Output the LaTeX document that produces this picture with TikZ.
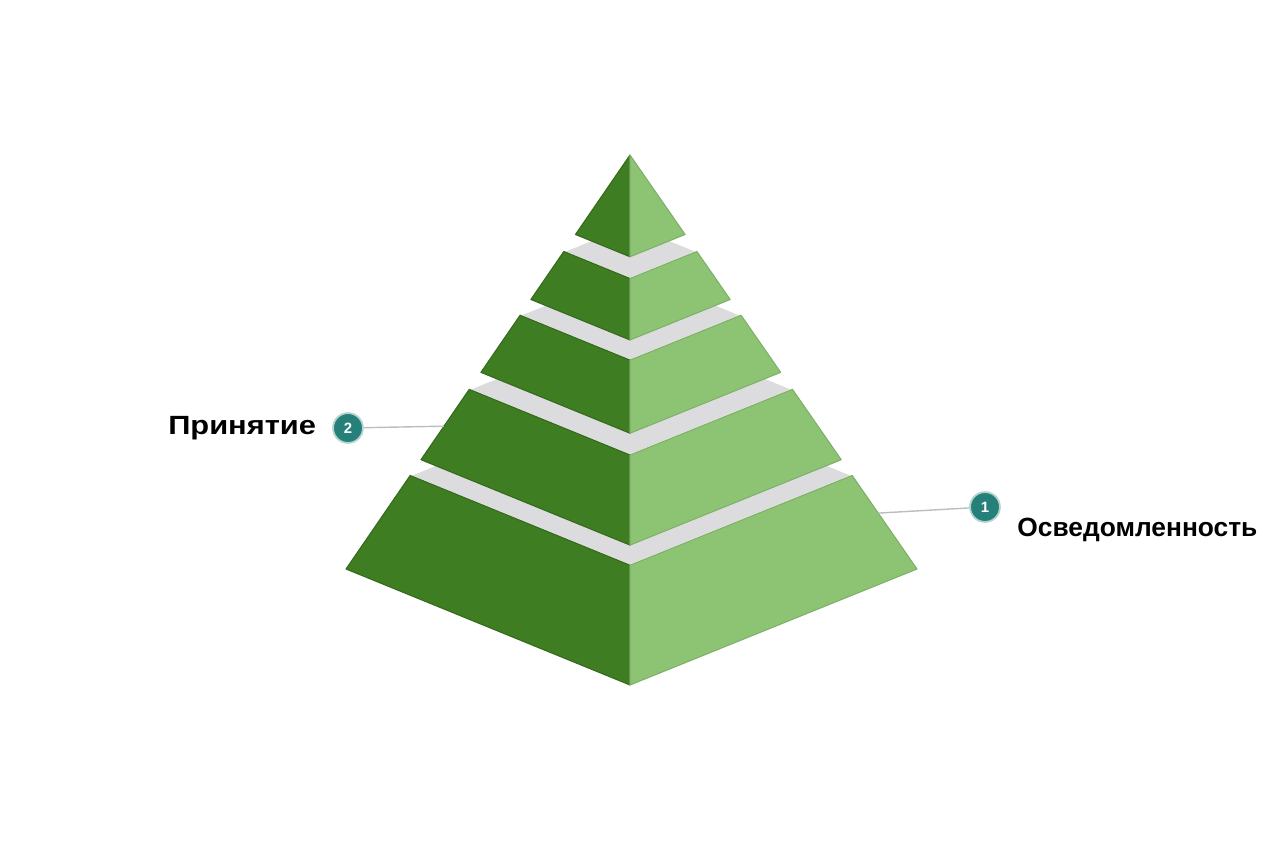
\documentclass[tikz,border=0pt]{standalone}
\usepackage{fontspec}
\setmainfont{Liberation Sans}
\newfontfamily\widefont[FakeStretch=1.17]{Liberation Sans}
\usetikzlibrary{calc,positioning}
\definecolor{leftgreen}{HTML}{3E7D22}
\definecolor{rightgreen}{HTML}{8CC474}
\definecolor{topgrey}{HTML}{DCDCDE}
\definecolor{badgeteal}{HTML}{25807A}
\definecolor{leadgrey}{HTML}{BDBDBD}
\tikzset{
    %Define styles for the faces of a layer
    leftface/.style={
           fill=leftgreen,
           draw=leftgreen!85!black,
           line width=0.6pt,
           line join=round},
    rightface/.style={
           fill=rightgreen,
           draw=rightgreen!90!black,
           line width=0.6pt,
           line join=round},
    topface/.style={
           fill=topgrey,
           draw=white,
           line width=0.8pt,
           line join=round},
    %Define style for numbered badges
    badge/.style={
           circle,
           fill=badgeteal,
           draw=badgeteal!35,
           line width=1pt,
           minimum size=17pt,
           inner sep=0pt,
           text=white,
           font=\fontsize{8.5pt}{10pt}\selectfont\bfseries},
    %Define style for labels
    lbl/.style={
           inner sep=0pt,
           font=\fontsize{15pt}{18pt}\selectfont\bfseries},
    % Define leader line style
    lead/.style={
           draw=leadgrey,
           line width=0.8pt}
}
\begin{document}
\begin{tikzpicture}[x=0.02cm, y=-0.02cm]
    \useasboundingbox (0,0) rectangle (1264,842);
 %corners of the pyramid
    \coordinate (A) at (630,155);
    \coordinate (F) at (630,685);
    \coordinate (L) at (346,569);
    \coordinate (R) at (917,569);
    \coordinate (B) at (633,453);
 %layers, from the base up
    \foreach \ta/\tb in {0.774/1, 0.566/0.736, 0.387/0.525, 0.233/0.349, 0/0.192} {
        \path[topface] ($(A)!\ta!(L)$) -- ($(A)!\ta!(F)$) -- ($(A)!\ta!(R)$) -- ($(A)!\ta!(B)$) -- cycle;
        \path[leftface] ($(A)!\ta!(L)$) -- ($(A)!\ta!(F)$) -- ($(A)!\tb!(F)$) -- ($(A)!\tb!(L)$) -- cycle;
        \path[rightface] ($(A)!\ta!(F)$) -- ($(A)!\ta!(R)$) -- ($(A)!\tb!(R)$) -- ($(A)!\tb!(F)$) -- cycle;
    }
 %nodes
    \node[badge] (b2) at (348,428) {2};
    \node[badge] (b1) at (985,507) {1};
    \node[lbl, left=9pt of b2] (accept) {\widefont Принятие};
    \node[lbl, anchor=base west] (aware) at (1017,536) {Осведомленность};
    \coordinate (e2) at ($(A)!0.655!(L)$);
    \coordinate (e1) at ($(A)!0.865!(R)$);
 %edges
    \draw[lead] (b2) -- (e2);
    \draw[lead] (b1) -- (e1);
\end{tikzpicture}
\end{document}
